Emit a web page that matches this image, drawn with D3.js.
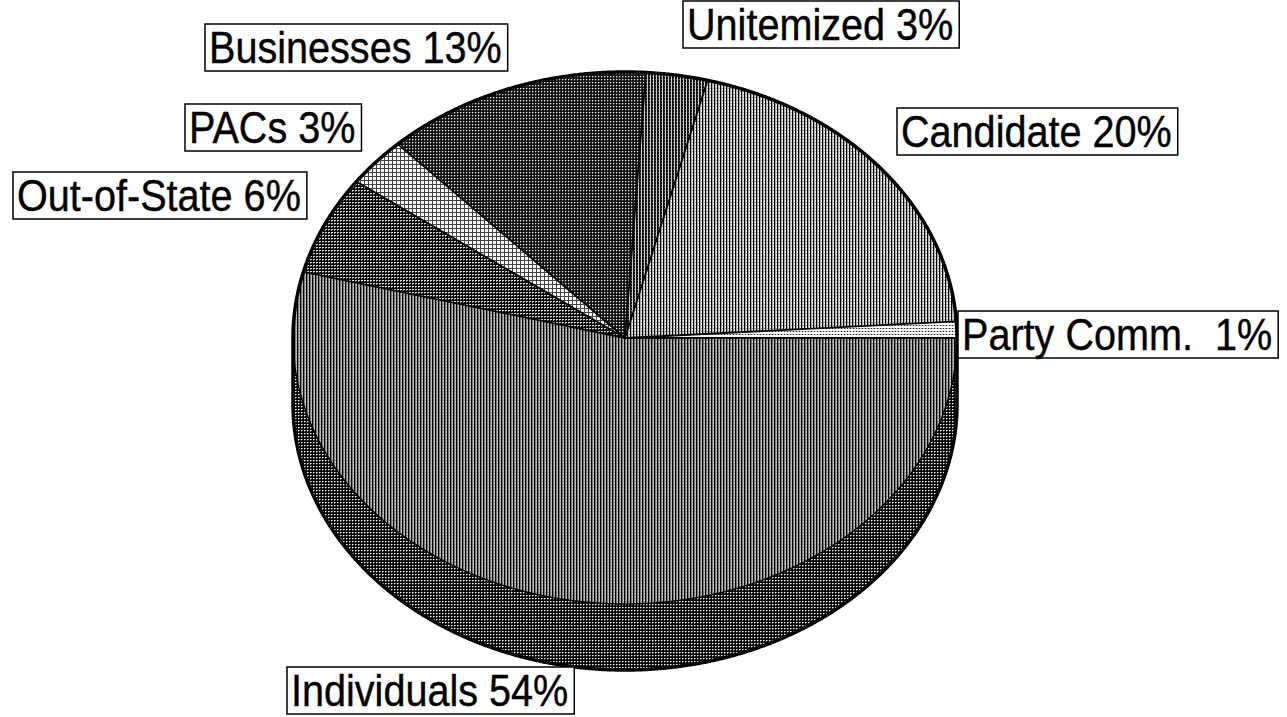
<!DOCTYPE html>
<html>
<head>
<meta charset="utf-8">
<script src="https://cdn.jsdelivr.net/npm/d3@7"></script>
<style>
  html, body { margin: 0; padding: 0; background: #fff; }
  svg { display: block; }
</style>
</head>
<body>
<svg id="chart" width="1287" height="717"></svg>
<script>
// ---- data -------------------------------------------------------------
const categories = ["Party Comm.", "Candidate", "Unitemized", "Businesses", "PACs", "Out-of-State", "Individuals"];
const shares = [1, 20, 3, 13, 3, 6, 54];
const labelNames = ["Party Comm.  ", "Candidate ", "Unitemized ", "Businesses ", "PACs ", "Out-of-State ", "Individuals "];

// ---- layout -----------------------------------------------------------
const W = 1287, H = 717;
const cx = 625, cy = 338, rx = 332, ry = 266, depth = 66;
const fontSize = 44, squeeze = 0.9;

// label box placement: [left edge, text baseline]
const labelPlace = {
  "Party Comm.":  [958, 350],
  "Candidate":    [897, 147],
  "Unitemized":   [683, 40],
  "Businesses":   [205, 63],
  "PACs":         [185, 143],
  "Out-of-State": [13, 211],
  "Individuals":  [287, 706]
};

const svg = d3.select("#chart");
svg.append("rect").attr("width", W).attr("height", H).attr("fill", "#fff");

// ---- halftone-like fill patterns -------------------------------------
const defs = svg.append("defs");
function makePattern(id, w, h, bg, cells) {
  const p = defs.append("pattern")
    .attr("id", id).attr("patternUnits", "userSpaceOnUse")
    .attr("width", w).attr("height", h);
  p.append("rect").attr("width", w).attr("height", h).attr("fill", bg)
    .attr("shape-rendering", "crispEdges");
  cells.forEach(([x, y, cw, ch, f]) =>
    p.append("rect").attr("x", x).attr("y", y).attr("width", cw).attr("height", ch)
      .attr("fill", f).attr("shape-rendering", "crispEdges"));
}
makePattern("fill-party", 3, 3, "#fff", [[0, 1, 3, 1, "#bbb"], [1, 1, 1, 1, "#222"]]);
makePattern("fill-candidate", 3, 3, "#f4f4f4", [[0, 0, 1, 3, "#000"], [1, 0, 1, 3, "#aaa"], [2, 1, 1, 1, "#999"]]);
makePattern("fill-unitemized", 3, 3, "#111", [[2, 0, 1, 3, "#ccc"], [1, 1, 1, 1, "#666"]]);
makePattern("fill-businesses", 3, 3, "#111", [[1, 1, 1, 1, "#eee"], [2, 1, 1, 1, "#555"], [1, 2, 1, 1, "#555"]]);
makePattern("fill-pacs", 4, 4, "#fff", [[0, 0, 4, 1, "#444"], [0, 0, 1, 4, "#444"]]);
makePattern("fill-outofstate", 3, 3, "#000", [[1, 1, 2, 1, "#ddd"], [1, 2, 1, 1, "#777"]]);
makePattern("fill-individuals", 3, 3, "#c4c4c4", [[0, 0, 1, 3, "#000"], [1, 0, 1, 3, "#7a7a7a"], [2, 1, 1, 1, "#999"]]);
makePattern("fill-side", 3, 3, "#000", [[1, 1, 1, 1, "#fff"], [2, 1, 1, 1, "#888"], [1, 2, 1, 1, "#555"]]);

const fillFor = {
  "Party Comm.": "url(#fill-party)",
  "Candidate": "url(#fill-candidate)",
  "Unitemized": "url(#fill-unitemized)",
  "Businesses": "url(#fill-businesses)",
  "PACs": "url(#fill-pacs)",
  "Out-of-State": "url(#fill-outofstate)",
  "Individuals": "url(#fill-individuals)"
};

// ---- pie geometry (counter-clockwise from 3 o'clock) ----------------
const pie = d3.pie().sort(null).value(d => d)
  .startAngle(Math.PI / 2).endAngle(Math.PI / 2 - 2 * Math.PI);
const arcs = pie(shares).map((a, i) => ({ ...a, name: categories[i] }));

// point on the tilted disc rim for a d3 angle (0 = 12 o'clock, clockwise)
const pt = (a, dy = 0) => [cx + rx * Math.sin(a), cy - ry * Math.cos(a) + dy];
function sample(a0, a1, dy = 0) {
  const n = Math.max(2, Math.ceil(Math.abs(a1 - a0) / 0.005));
  return d3.range(n + 1).map(i => pt(a0 + (a1 - a0) * i / n, dy));
}
const line = d3.line();

const g = svg.append("g");

// side wall on the front half of the disc
const frontLo = -3 * Math.PI / 2, frontHi = -Math.PI / 2;
arcs.forEach(a => {
  const hi = Math.min(a.startAngle, frontHi);
  const lo = Math.max(a.endAngle, frontLo);
  if (hi <= lo) return;
  const pts = sample(hi, lo).concat(sample(lo, hi, depth));
  g.append("path").attr("d", line(pts) + "Z")
    .attr("fill", "url(#fill-side)").attr("stroke", "none");
});

// top faces
arcs.forEach(a => {
  const pts = [[cx, cy]].concat(sample(a.startAngle, a.endAngle));
  g.append("path").attr("d", line(pts) + "Z")
    .attr("fill", fillFor[a.name]).attr("stroke", "none");
});

// slice borders
arcs.forEach(a => {
  g.append("path").attr("d", line([[cx, cy], pt(a.startAngle)]))
    .attr("stroke", "#000").attr("stroke-width", 1.8).attr("fill", "none");
});

// front rim of the top face
g.append("path").attr("d", line(sample(frontHi, frontLo)))
  .attr("stroke", "#000").attr("stroke-width", 1.5).attr("fill", "none");

// outer silhouette: back half of the top rim, then front half of the bottom rim
const outline = sample(-Math.PI / 2, Math.PI / 2)
  .concat(sample(Math.PI / 2, 3 * Math.PI / 2, depth));
g.append("path").attr("d", line(outline) + "Z")
  .attr("fill", "none").attr("stroke", "#000").attr("stroke-width", 3.5).attr("stroke-linejoin", "round");

// ---- labels -----------------------------------------------------------
const lg = svg.append("g")
  .style("font-family", "'Liberation Sans', Arial, Helvetica, sans-serif")
  .style("font-size", fontSize + "px");
categories.forEach((c, i) => {
  const [x, base] = labelPlace[c];
  const item = lg.append("g").attr("transform", `translate(${x},${base})`);
  const box = item.append("rect");
  const t = item.append("text")
    .attr("transform", `translate(4,0) scale(${squeeze},1)`)
    .attr("fill", "#000")
    .attr("stroke", "#000").attr("stroke-width", 0.4)
    .style("white-space", "pre")
    .text(labelNames[i] + shares[i] + "%");
  const w = t.node().getComputedTextLength() * squeeze;
  box.attr("x", 0).attr("y", -39).attr("width", w + 10).attr("height", 47)
    .attr("fill", "#fff").attr("stroke", "#000").attr("stroke-width", 1.5);
});
</script>
</body>
</html>
